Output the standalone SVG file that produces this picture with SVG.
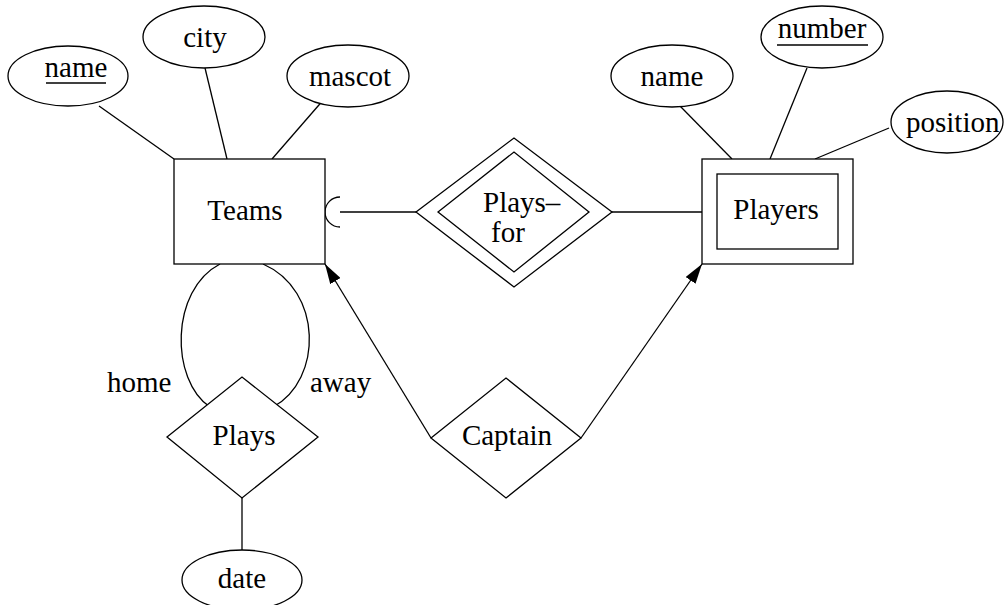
<svg xmlns="http://www.w3.org/2000/svg" width="1004" height="605" viewBox="0 0 1004 605">
<style>
.s{fill:none;stroke:#000;stroke-width:1.3}
.b{fill:#fff;stroke:#000;stroke-width:1.3}
.t{font-family:'Liberation Serif','DejaVu Serif',serif;font-size:29px;fill:#000}
.c{text-anchor:middle}
</style>
<defs>
<marker id="arr" viewBox="0 0 20 12" refX="20" refY="6" markerWidth="20" markerHeight="12" markerUnits="userSpaceOnUse" orient="auto">
<path d="M0,0 L20,6 L0,12 z" fill="#000"/>
</marker>
</defs>
<rect width="1004" height="605" fill="#fff"/>
<g id="connectors" class="s">
<line x1="99" y1="106" x2="174" y2="159"/>
<line x1="205" y1="68" x2="227" y2="159"/>
<line x1="325" y1="98" x2="272" y2="159"/>
<line x1="680" y1="106" x2="732" y2="159"/>
<line x1="807" y1="68" x2="770" y2="159"/>
<line x1="889" y1="128" x2="815" y2="159"/>
<path d="M340 197 A15 15 0 0 0 340 227"/>
<line x1="340" y1="212" x2="416" y2="212"/>
<line x1="612" y1="212" x2="702" y2="212"/>
<path d="M220 264 C170 290 170 380 210 407"/>
<path d="M263 264 C323 290 323 380 273 407"/>
<line x1="242" y1="498" x2="242" y2="550"/>
<line x1="431" y1="438" x2="325" y2="264" marker-end="url(#arr)"/>
<line x1="581" y1="438" x2="702" y2="264" marker-end="url(#arr)"/>
</g>
<g class="t" font-family="Liberation Serif, serif">
<g id="teams"><rect class="b" x="174" y="159" width="151" height="105"/><text class="c" x="245" y="220">Teams</text></g>
<g id="teams-name"><ellipse class="b" cx="68" cy="76" rx="60" ry="30"/><text class="c" x="76" y="77">name</text><line class="s" x1="46" y1="83" x2="106" y2="83"/></g>
<g id="teams-city"><ellipse class="b" cx="204" cy="37" rx="61" ry="31"/><text class="c" x="205" y="47">city</text></g>
<g id="teams-mascot"><ellipse class="b" cx="348" cy="76" rx="61" ry="31"/><text class="c" x="350" y="86">mascot</text></g>
<g id="plays-for"><polygon class="b" points="416,212 514,138 612,212 514,287"/><polygon class="s" points="438,212 514,152 589,212 514,272"/><text x="483" y="212">Plays–</text><text x="491" y="242">for</text></g>
<g id="players"><rect class="b" x="702" y="159" width="151" height="105"/><rect class="s" x="717" y="174" width="121" height="75"/><text class="c" x="776" y="219">Players</text></g>
<g id="players-name"><ellipse class="b" cx="672" cy="76" rx="61" ry="31"/><text class="c" x="672" y="86">name</text></g>
<g id="players-number"><ellipse class="b" cx="822" cy="37" rx="61" ry="31"/><text class="c" x="822" y="38">number</text><line class="s" x1="777" y1="45" x2="868" y2="45"/></g>
<g id="players-position"><ellipse class="b" cx="947" cy="122" rx="56" ry="31"/><text x="906" y="132">position</text></g>
<g id="plays"><polygon class="b" points="167,437 242,377 318,437 242,498"/><text class="c" x="244" y="445">Plays</text></g>
<g id="date"><ellipse class="b" cx="242" cy="580" rx="60" ry="30"/><text class="c" x="242" y="588">date</text></g>
<g id="captain"><polygon class="b" points="431,438 506,378 581,438 506,498"/><text class="c" x="507" y="445">Captain</text></g>
<g id="labels"><text x="107" y="392">home</text><text x="310" y="392">away</text></g>
</g>
</svg>
